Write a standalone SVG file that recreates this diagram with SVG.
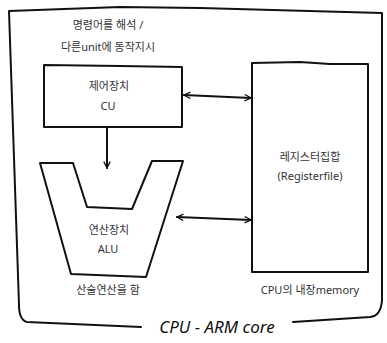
<svg xmlns="http://www.w3.org/2000/svg" width="387" height="343" viewBox="0 0 387 343">
<defs>
<style>
.ln{fill:none;stroke:#111;stroke-width:2;stroke-linejoin:round;stroke-linecap:round}
.sh{fill:#fff;stroke:#111;stroke-width:2;stroke-linejoin:round}
.t{font-family:"Noto Sans","Noto Sans CJK KR",sans-serif;font-size:11px;fill:#333;text-anchor:middle}
.big{font-family:"Noto Sans","Noto Sans CJK KR",sans-serif;font-size:17px;font-style:italic;fill:#111;text-anchor:middle}
</style>
<marker id="ah" viewBox="0 0 10 10" refX="9" refY="5" markerWidth="8" markerHeight="8" orient="auto-start-reverse" markerUnits="userSpaceOnUse">
<path d="M1,1 L9,5 L1,9" fill="none" stroke="#111" stroke-width="1.6"/>
</marker>
</defs>
<rect width="387" height="343" fill="#fff"/>
<g id="frame">
<path class="ln" d="M141,327 L27,322 Q19,320 19,305 L9,11 L120,7 L200,8 L382,13 L382,300 Q381,316 370,317 L293,322"/>
<text class="big" x="217" y="333">CPU - ARM core</text>
</g>
<g id="note">
<text class="t" x="108" y="29">명령어를 해석 /</text>
<text class="t" x="108" y="51">다른unit에 동작지시</text>
</g>
<g id="cu">
<path class="sh" d="M44,65 L120,66 L182,67 L182,127 L44,127 Z"/>
<text class="t" x="109" y="90">제어장치</text>
<text class="t" x="108" y="110">CU</text>
</g>
<g id="alu">
<path class="sh" d="M40,163 L73,163 L87,207 L132,209 L152,161 L183,161 L146,277 L71,274 Z"/>
<text class="t" x="109" y="234">연산장치</text>
<text class="t" x="108" y="253">ALU</text>
<text class="t" x="108" y="294">산술연산을 함</text>
</g>
<g id="registerfile">
<path class="sh" d="M252,63 L300,62 L330,64 L368,64 L368,272 L252,272 Z"/>
<text class="t" x="310" y="161">레지스터집합</text>
<text class="t" x="310" y="180">(Registerfile)</text>
<text class="t" x="310" y="294">CPU의 내장memory</text>
</g>
<g id="connectors">
<path class="ln" d="M107,128 L107,168" marker-end="url(#ah)"/>
<path class="ln" d="M184,95 L251,98" marker-start="url(#ah)" marker-end="url(#ah)"/>
<path class="ln" d="M177,217 L251,220" marker-start="url(#ah)" marker-end="url(#ah)"/>
</g>
</svg>
